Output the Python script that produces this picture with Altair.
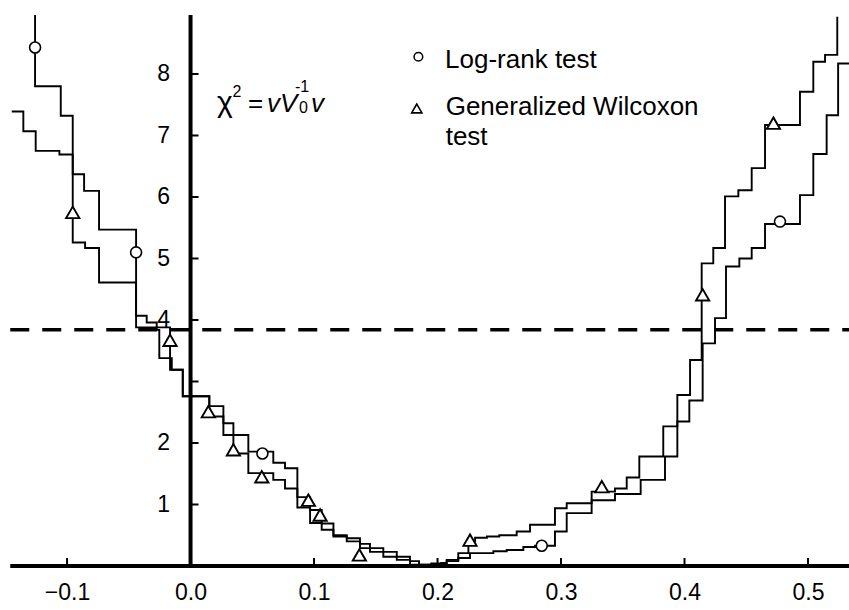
import altair as alt
import pandas as pd

# ------------------------------------------------------------------ data
# Log-rank test statistic (step function, step-after points)
LR_X = [-0.1259, -0.1259, -0.1051, -0.0954, -0.0862, -0.0741, -0.0441, -0.0355,
        -0.0274, -0.0253, -0.0152, -0.0063, 0.0152, 0.0266, 0.0347, 0.0468,
        0.0670, 0.0765, 0.0865, 0.0968, 0.1062, 0.1157, 0.1265, 0.1372,
        0.1453, 0.1561, 0.1670, 0.1777, 0.1850, 0.1950, 0.2030, 0.2074,
        0.2168, 0.2263, 0.2452, 0.2560, 0.2695, 0.2790, 0.2951, 0.3046,
        0.3248, 0.3437, 0.3645, 0.3842, 0.3942, 0.4039, 0.4147, 0.4247,
        0.4336, 0.4444, 0.4544, 0.4652, 0.4935, 0.5043, 0.5151, 0.5244, 0.5332]
LR_Y = [8.96, 7.80, 7.32, 6.37, 6.10, 5.47, 4.07, 3.96,
        3.84, 3.38, 3.19, 2.76, 2.60, 2.32, 2.13, 1.86,
        1.68, 1.59, 1.12, 0.91, 0.69, 0.50, 0.45, 0.36,
        0.29, 0.23, 0.15, 0.08, 0.02, 0.03, 0.05, 0.08,
        0.13, 0.21, 0.24, 0.26, 0.31, 0.33, 0.56, 0.86,
        1.07, 1.17, 1.40, 1.78, 2.35, 2.69, 3.62, 4.03,
        4.87, 5.00, 5.17, 5.56, 6.03, 6.70, 7.33, 8.17, 8.17]

# Generalized Wilcoxon test statistic
W_X = [-0.1448, -0.1354, -0.1254, -0.1062, -0.0954, -0.0854, -0.0741, -0.0441,
       -0.0166, -0.0063, 0.0152, 0.0266, 0.0347, 0.0468, 0.0670, 0.0765,
       0.0865, 0.0968, 0.1062, 0.1157, 0.1265, 0.1372, 0.1453, 0.1561,
       0.1670, 0.1777, 0.1950, 0.2074, 0.2168, 0.2250, 0.2304, 0.2400,
       0.2500, 0.2641, 0.2749, 0.2951, 0.3046, 0.3248, 0.3437, 0.3532,
       0.3634, 0.3828, 0.3942, 0.4045, 0.4139, 0.4233, 0.4328, 0.4436,
       0.4544, 0.4652, 0.4935, 0.5043, 0.5138, 0.5237]
W_Y = [7.39, 7.07, 6.75, 6.69, 5.26, 5.17, 4.61, 3.88,
       3.19, 2.76, 2.43, 2.13, 1.83, 1.51, 1.40, 1.26,
       0.95, 0.70, 0.59, 0.48, 0.40, 0.29, 0.23, 0.15,
       0.10, 0.02, 0.04, 0.10, 0.21, 0.40, 0.46, 0.48,
       0.50, 0.56, 0.67, 0.94, 1.02, 1.21, 1.26, 1.44,
       1.78, 2.27, 2.78, 3.35, 4.92, 5.17, 6.01, 6.11,
       6.47, 7.17, 7.71, 8.20, 8.31, 8.93]

# marker positions
LR_MARK_X = [-0.1259, -0.0441, 0.0582, 0.2844, 0.4773]
LR_MARK_Y = [8.43, 5.10, 1.83, 0.33, 5.60]
W_MARK_X = [-0.0954, -0.0166, 0.0144, 0.0347, 0.0577, 0.0954, 0.1049,
            0.1367, 0.2263, 0.3330, 0.4147, 0.4720]
W_MARK_Y = [5.75, 3.67, 2.51, 1.89, 1.45, 1.07, 0.83,
            0.18, 0.42, 1.29, 4.41, 7.20]

CRIT = [3.84]                      # chi-square 5% critical value
X_TICKS = [-0.1, 0.0, 0.1, 0.2, 0.3, 0.4, 0.5]
Y_TICKS = [1, 2, 3, 4, 5, 6, 7, 8]
Y_LABELS = [1, 2, 4, 5, 6, 7, 8]
LEGEND = ["Log-rank test", "Generalized Wilcoxon", "test"]

# ------------------------------------------------------------------ layout
X_DOM = [-0.1543, 0.5332]
Y_DOM = [0, 9.203]
W_PX, H_PX = 849, 566
FONT = "Liberation Sans"
AX_X0 = -0.146     # left end of the x axis line
AX_YTOP = 8.96     # top end of the y axis line

xs = alt.Scale(domain=X_DOM, nice=False, zero=False)
ys = alt.Scale(domain=Y_DOM, nice=False, zero=False)
y_axis_offset = -(0 - X_DOM[0]) / (X_DOM[1] - X_DOM[0]) * W_PX

x_axis = alt.Axis(values=X_TICKS, format=".1f", domain=False, ticks=False,
                  tickSize=0, labelPadding=15, labelFontSize=23, labelFont=FONT,
                  labelColor="black", grid=False, labelFlush=False,
                  labelOverlap=False, title="")
y_axis = alt.Axis(values=Y_LABELS, orient="left", offset=y_axis_offset,
                  domain=False, ticks=False, tickSize=0, labelPadding=21,
                  labelFontSize=23, labelFont=FONT, labelColor="black",
                  grid=False, labelFlush=False, labelOverlap=False, title="")


def X():
    return alt.X("x:Q", scale=xs, axis=x_axis)


def Y():
    return alt.Y("y:Q", scale=ys, axis=y_axis)


def steps(xv, yv):
    return pd.DataFrame({"x": xv, "y": yv, "i": list(range(len(xv)))})


lr_line = alt.Chart(steps(LR_X, LR_Y)).mark_line(
    interpolate="step-after", color="black", strokeWidth=1.9
).encode(x=X(), y=Y(), order="i:Q")

w_line = alt.Chart(steps(W_X, W_Y)).mark_line(
    interpolate="step-after", color="black", strokeWidth=1.9
).encode(x=X(), y=Y(), order="i:Q")

# axis lines
y_line = alt.Chart(pd.DataFrame({"x": [0.0], "y": [0.0], "y2": [AX_YTOP]})).mark_rule(
    color="black", strokeWidth=4
).encode(x=X(), y=Y(), y2="y2:Q")
x_line = alt.Chart(pd.DataFrame({"x": [AX_X0], "x2": [X_DOM[1]], "y": [0.0]})).mark_rule(
    color="black", strokeWidth=4
).encode(x=X(), x2="x2:Q", y=Y())

crit_line = alt.Chart(pd.DataFrame({"x": [AX_X0], "x2": [X_DOM[1]], "y": CRIT})).mark_rule(
    color="black", strokeWidth=3.5, strokeDash=[19, 13]
).encode(x=X(), x2="x2:Q", y=Y())

# inward tick marks
x_ticks = alt.Chart(pd.DataFrame({"x": X_TICKS, "y": [0.0] * len(X_TICKS)})).mark_tick(
    orient="vertical", size=8, thickness=2, yOffset=-4, color="black", opacity=1
).encode(x=X(), y=Y())
y_ticks = alt.Chart(pd.DataFrame({"x": [0.0] * len(Y_TICKS), "y": Y_TICKS})).mark_tick(
    orient="horizontal", size=8, thickness=2, xOffset=4, color="black", opacity=1
).encode(x=X(), y=Y())

# markers
lr_pts = alt.Chart(pd.DataFrame({"x": LR_MARK_X, "y": LR_MARK_Y})).mark_point(
    shape="circle", filled=True, fill="white", stroke="black", strokeWidth=1.6,
    size=120, opacity=1
).encode(x=X(), y=Y())
w_pts = alt.Chart(pd.DataFrame({"x": W_MARK_X, "y": W_MARK_Y})).mark_point(
    shape="triangle-up", filled=True, fill="white", stroke="black",
    strokeWidth=1.9, size=175, opacity=1
).encode(x=X(), y=Y())

# legend (in data coordinates)
leg_circle = alt.Chart(pd.DataFrame({"x": [0.1845], "y": [8.28]})).mark_point(
    shape="circle", filled=True, fill="white", stroke="black", strokeWidth=1.5,
    size=75, opacity=1
).encode(x=X(), y=Y())
leg_tri = alt.Chart(pd.DataFrame({"x": [0.1832], "y": [7.44]})).mark_point(
    shape="triangle-up", filled=True, fill="white", stroke="black",
    strokeWidth=1.6, size=105, opacity=1
).encode(x=X(), y=Y())
leg_text = alt.Chart(pd.DataFrame({"x": [0.2061, 0.2066, 0.2066],
                                   "y": [8.09, 7.33, 6.85],
                                   "t": LEGEND})).mark_text(
    align="left", baseline="alphabetic", font=FONT, fontSize=26, color="black"
).encode(x=X(), y=Y(), text="t:N")

# formula  chi^2 = v V_0^-1 v
f_chi = alt.Chart(pd.DataFrame({"x": [0.0215], "y": [7.387],
                                "t": ["\u03c7"]})).mark_text(
    align="left", baseline="alphabetic", font=FONT, fontSize=30, color="black"
).encode(x=X(), y=Y(), text="t:N")
f_eq = alt.Chart(pd.DataFrame({"x": [0.0466], "y": [7.387],
                               "t": ["="]})).mark_text(
    align="left", baseline="alphabetic", font=FONT, fontSize=26, color="black"
).encode(x=X(), y=Y(), text="t:N")
f_ital = alt.Chart(pd.DataFrame({"x": [0.0619, 0.0976], "y": [7.387, 7.387],
                                 "t": ["vV", "v"]})).mark_text(
    align="left", baseline="alphabetic", font=FONT, fontSize=26,
    fontStyle="italic", color="black"
).encode(x=X(), y=Y(), text="t:N")
f_small = alt.Chart(pd.DataFrame({"x": [0.0340, 0.0846, 0.0879],
                                  "y": [7.62, 7.707, 7.366],
                                  "t": ["2", "-1", "0"]})).mark_text(
    align="left", baseline="alphabetic", font=FONT, fontSize=16, color="black"
).encode(x=X(), y=Y(), text="t:N")

chart = alt.layer(
    lr_line, w_line, crit_line, x_line, y_line, x_ticks, y_ticks,
    lr_pts, w_pts, leg_circle, leg_tri, leg_text, f_chi, f_eq, f_ital, f_small
).properties(
    width=W_PX, height=H_PX,
    padding={"left": 0, "right": 0, "top": 0, "bottom": 44},
    autosize=alt.AutoSizeParams(type="none"),
    background="white",
).configure_view(strokeWidth=0)

chart.save("out.html", embed_options={"renderer": "svg", "actions": False})
